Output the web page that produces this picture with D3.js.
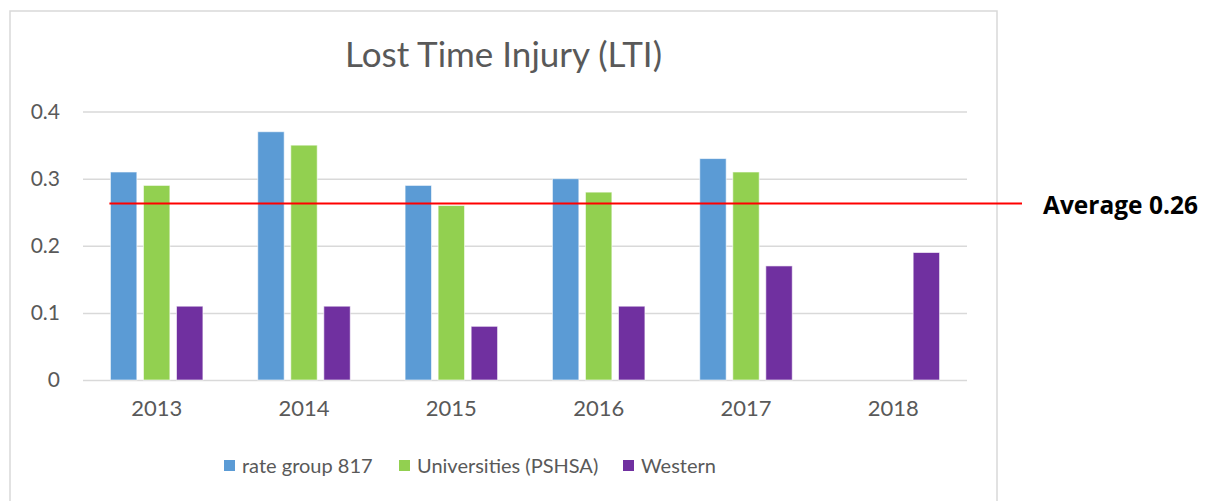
<!DOCTYPE html>
<html>
<head>
<meta charset="utf-8">
<script src="https://cdn.jsdelivr.net/npm/d3@7"></script>
<style>
  body { margin: 0; background: #fff; }
  svg { display: block; }
  .axis text { font-family: Lato, "Open Sans", sans-serif; fill: #595959; }
  .axis path { display: none; }
</style>
</head>
<body>
<div id="chart"></div>
<script>
// values
var years = ["2013", "2014", "2015", "2016", "2017", "2018"];
var seriesNames = ["rate group 817", "Universities (PSHSA)", "Western"];
var rateGroup817 = [0.31, 0.37, 0.29, 0.30, 0.33, null];
var universities = [0.29, 0.35, 0.26, 0.28, 0.31, null];
var western = [0.11, 0.11, 0.08, 0.11, 0.17, 0.19];
var yTicks = [0, 0.1, 0.2, 0.3, 0.4];
var averageValue = 0.263;
var averageLabel = "Average 0.26";
var titleText = "Lost Time Injury (LTI)";
var colors = ["#5b9bd5", "#92d050", "#7030a0"];

var seriesValues = [rateGroup817, universities, western];

var dim = {
    width: 1220, height: 501,
    frame: { left: 10, top: 11, right: 997, bottom: 520 },
    plot: { left: 83, right: 967, top: 111.6, bottom: 380 }
};

var svg = d3.select("#chart").append("svg")
        .attr("width", dim.width)
        .attr("height", dim.height);

// chart area border
svg.append("rect")
        .attr("x", dim.frame.left)
        .attr("y", dim.frame.top)
        .attr("width", dim.frame.right - dim.frame.left)
        .attr("height", dim.frame.bottom - dim.frame.top)
        .attr("fill", "#fff")
        .attr("stroke", "#d9d9d9")
        .attr("stroke-width", 1.5);

var x0 = d3.scaleBand()
        .domain(years)
        .range([dim.plot.left, dim.plot.right])
        .padding(0);

var x1 = d3.scaleBand()
        .domain(seriesNames)
        .range([0, x0.bandwidth()])
        .paddingInner(0.2)
        .paddingOuter(0.83);

var y = d3.scaleLinear()
        .domain([0, 0.4])
        .range([dim.plot.bottom, dim.plot.top]);

// gridlines + y labels
var yAxis = d3.axisLeft(y)
        .tickValues(yTicks)
        .tickSize(-(dim.plot.right - dim.plot.left))
        .tickPadding(23)
        .tickFormat(function(d) { return d === 0 ? "0" : d3.format(".1f")(d); });

var gy = svg.append("g")
        .attr("class", "axis y")
        .attr("transform", "translate(" + dim.plot.left + ",0)")
        .call(yAxis);
gy.selectAll("line").attr("stroke", "#d9d9d9").attr("stroke-width", 1.5);
gy.selectAll("text").style("font-size", "21px");

var xAxis = d3.axisBottom(x0).tickSize(0).tickPadding(20);
var gx = svg.append("g")
        .attr("class", "axis x")
        .attr("transform", "translate(0," + dim.plot.bottom + ")")
        .call(xAxis);
gx.selectAll("text").style("font-size", "22px");

// bars
var rows = [];
years.forEach(function(yr, i) {
    seriesNames.forEach(function(s, j) {
        if (seriesValues[j][i] != null) rows.push({ year: yr, series: s, idx: j, value: seriesValues[j][i] });
    });
});

svg.append("g").attr("class", "bars")
    .selectAll("rect").data(rows).enter()
    .append("rect")
        .attr("x", function(d) { return x0(d.year) + x1(d.series); })
        .attr("y", function(d) { return y(d.value); })
        .attr("width", x1.bandwidth())
        .attr("height", function(d) { return y(0) - y(d.value); })
        .attr("fill", function(d) { return colors[d.idx]; })
        .attr("stroke", "#fff")
        .attr("stroke-opacity", 0.6)
        .attr("stroke-width", 1);

// title
svg.append("text")
        .attr("x", (dim.frame.left + dim.frame.right) / 2)
        .attr("y", 67)
        .attr("text-anchor", "middle")
        .style("font-family", "Lato, 'Open Sans', sans-serif")
        .style("font-size", "35px")
        .style("fill", "#595959")
        .text(titleText);

// legend
var legendX = [224, 399, 623];
var legend = svg.append("g").attr("class", "legend")
    .selectAll("g").data(seriesNames).enter()
    .append("g")
        .attr("transform", function(d, i) { return "translate(" + legendX[i] + ",466)"; });
legend.append("rect")
        .attr("x", 0).attr("y", -6)
        .attr("width", 11).attr("height", 11)
        .attr("fill", function(d, i) { return colors[i]; });
legend.append("text")
        .attr("x", 18).attr("y", 7)
        .style("font-family", "Lato, 'Open Sans', sans-serif")
        .style("font-size", "20px")
        .style("fill", "#595959")
        .text(function(d) { return d; });

// average line
var avgY = y(averageValue);
svg.append("line")
        .attr("x1", x0(years[0]) + x1(seriesNames[0]) - 1)
        .attr("x2", dim.frame.right + 25)
        .attr("y1", avgY).attr("y2", avgY)
        .attr("stroke", "#ff0000")
        .attr("stroke-width", 2);

svg.append("text")
        .attr("x", 1043)
        .attr("y", avgY + 4)
        .attr("dominant-baseline", "middle")
        .style("font-family", "'Open Sans', Lato, sans-serif")
        .style("font-weight", "bold")
        .style("font-size", "24.5px")
        .style("fill", "#000")
        .text(averageLabel);
</script>
</body>
</html>
